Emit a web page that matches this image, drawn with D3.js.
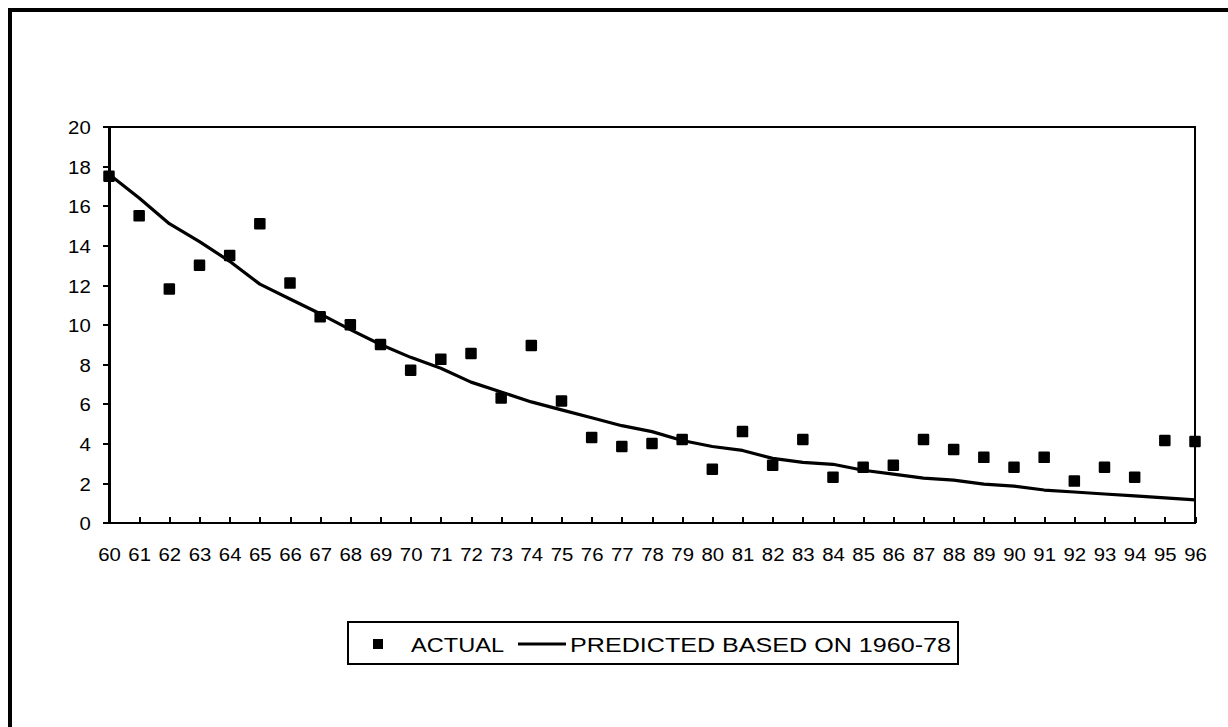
<!DOCTYPE html>
<html>
<head>
<meta charset="utf-8">
<script src="https://cdn.jsdelivr.net/npm/d3@7"></script>
<style>
  body { margin: 0; background: #fff; }
  svg { display: block; font-family: Arial, "Liberation Sans", sans-serif; }
  .axis path, .axis line { stroke: #000; stroke-width: 2px; shape-rendering: crispEdges; }
  .axis text { fill: #000; }
</style>
</head>
<body>
<div id="chart"></div>
<script>

// categories (years, two digits as on the chart)
var years = ["60", "61", "62", "63", "64", "65", "66", "67", "68", "69",
             "70", "71", "72", "73", "74", "75", "76", "77", "78", "79",
             "80", "81", "82", "83", "84", "85", "86", "87", "88", "89",
             "90", "91", "92", "93", "94", "95", "96"];

// ACTUAL - square markers
var actual = [17.5, 15.5, 11.8, 13.0, 13.5, 15.1, 12.1, 10.4, 10.0, 9.0,
              7.7, 8.25, 8.55, 6.3, 8.95, 6.15, 4.3, 3.85, 4.0, 4.2,
              2.7, 4.6, 2.9, 4.2, 2.3, 2.8, 2.9, 4.2, 3.7, 3.3,
              2.8, 3.3, 2.1, 2.8, 2.3, 4.15, 4.1];

// PREDICTED BASED ON 1960-78 - solid line
var predicted = [17.6, 16.4, 15.1, 14.2, 13.2, 12.05, 11.3, 10.55, 9.75, 9.0,
                 8.35, 7.8, 7.1, 6.6, 6.1, 5.7, 5.3, 4.9, 4.6, 4.15,
                 3.85, 3.65, 3.25, 3.05, 2.95, 2.65, 2.45, 2.25, 2.15, 1.95,
                 1.85, 1.65, 1.55, 1.45, 1.35, 1.25, 1.15];

var yTicks = [0, 2, 4, 6, 8, 10, 12, 14, 16, 18, 20];

var seriesNames = ["ACTUAL", "PREDICTED BASED ON 1960-78"];

var W = 1228, H = 727;
var margin = { top: 126.7, left: 109 },
    width = 1086,
    height = 396;

var stretch = 1.1; // the original text is a bit wide

var svg = d3.select("#chart").append("svg")
    .attr("width", W)
    .attr("height", H);

// outer frame, only left and top edges show
svg.append("rect")
    .attr("x", 10).attr("y", 10)
    .attr("width", W + 50).attr("height", H + 50)
    .attr("fill", "none")
    .attr("stroke", "#000")
    .attr("stroke-width", 4);

var g = svg.append("g")
    .attr("transform", "translate(" + margin.left + "," + margin.top + ")");

var x = d3.scalePoint().domain(years).range([0, width]);
var y = d3.scaleLinear().domain([0, 20]).range([height, 0]);

// plot area border (top + right)
g.append("rect")
    .attr("x", 0).attr("y", 0)
    .attr("width", width).attr("height", height)
    .attr("fill", "none")
    .attr("stroke", "#000")
    .attr("stroke-width", 2)
    .attr("shape-rendering", "crispEdges");

// x axis, ticks pointing inward
var xAxis = g.append("g")
    .attr("class", "axis")
    .attr("transform", "translate(0," + height + ")")
    .call(d3.axisBottom(x).tickSizeInner(-6).tickSizeOuter(0));

xAxis.selectAll("text")
    .attr("y", 25)
    .attr("dy", "0.71em")
    .style("font-size", "18.5px")
    .attr("transform", "scale(" + stretch + ",1)");

// y axis
var yAxis = g.append("g")
    .attr("class", "axis")
    .call(d3.axisLeft(y).tickValues(yTicks).tickFormat(d3.format("d")).tickSizeInner(6).tickSizeOuter(0));

yAxis.selectAll("text")
    .attr("x", -18.3 / stretch)
    .attr("dy", "0.38em")
    .style("font-size", "18.5px")
    .attr("transform", "scale(" + stretch + ",1)");

// predicted line
var line = d3.line()
    .x(function(d, i) { return x(years[i]); })
    .y(function(d) { return y(d); });

g.append("path")
    .datum(predicted)
    .attr("d", line)
    .attr("fill", "none")
    .attr("stroke", "#000")
    .attr("stroke-width", 3.2)
    .attr("stroke-linejoin", "round");

// actual markers
var ms = 11.5;
g.selectAll(".pt")
    .data(actual)
    .enter().append("rect")
    .attr("class", "pt")
    .attr("x", function(d, i) { return x(years[i]) - ms / 2; })
    .attr("y", function(d) { return y(d) - ms / 2; })
    .attr("width", ms)
    .attr("height", ms)
    .attr("rx", 1.2)
    .attr("fill", "#000");

// legend
var legend = svg.append("g").attr("transform", "translate(348,622)");

legend.append("rect")
    .attr("width", 610).attr("height", 42)
    .attr("fill", "#fff")
    .attr("stroke", "#000")
    .attr("stroke-width", 2)
    .attr("shape-rendering", "crispEdges");

legend.append("rect")
    .attr("x", 25).attr("y", 17)
    .attr("width", 10).attr("height", 10)
    .attr("fill", "#000");

legend.append("text")
    .attr("x", 63).attr("y", 30.3)
    .attr("textLength", 93)
    .attr("lengthAdjust", "spacingAndGlyphs")
    .style("font-size", "20.5px")
    .text(seriesNames[0]);

legend.append("line")
    .attr("x1", 170).attr("x2", 218)
    .attr("y1", 22).attr("y2", 22)
    .attr("stroke", "#000")
    .attr("stroke-width", 3);

legend.append("text")
    .attr("x", 222).attr("y", 30.3)
    .attr("textLength", 381)
    .attr("lengthAdjust", "spacingAndGlyphs")
    .style("font-size", "20.5px")
    .text(seriesNames[1]);

</script>
</body>
</html>
